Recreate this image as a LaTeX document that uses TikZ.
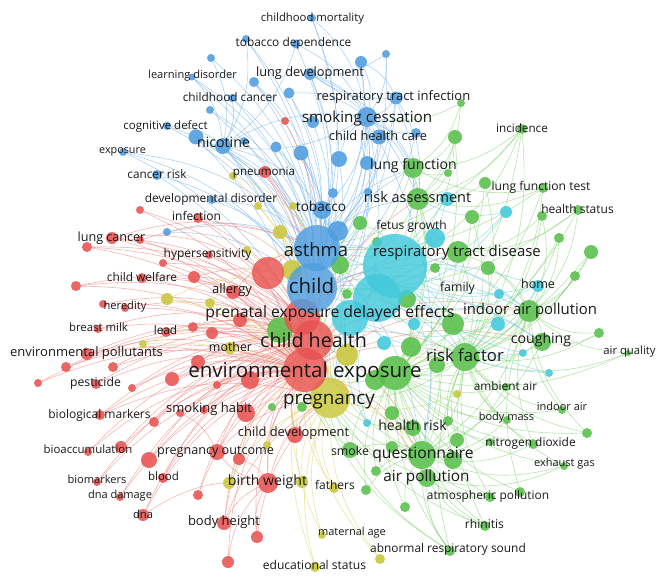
\documentclass[tikz,border=0pt]{standalone}
\usepackage{fontspec}
\setmainfont{Open Sans}
\pgfdeclarelayer{bottom}
\pgfdeclarelayer{edges}
\pgfsetlayers{bottom,edges,main}
\definecolor{cR}{RGB}{232,82,80}
\definecolor{cB}{RGB}{78,157,224}
\definecolor{cG}{RGB}{88,192,74}
\definecolor{cC}{RGB}{65,201,219}
\definecolor{cY}{RGB}{201,199,58}
\definecolor{eRc}{RGB}{240,120,118}
\definecolor{eBc}{RGB}{110,175,235}
\definecolor{eGc}{RGB}{125,210,105}
\definecolor{eCc}{RGB}{90,208,225}
\definecolor{eYc}{RGB}{215,210,90}
\definecolor{txt}{RGB}{25,25,25}
\tikzset{
  bub/.style={circle,inner sep=0pt,draw=none,fill=#1,fill opacity=0.88},
  bigbub/.style={circle,inner sep=0pt,draw=none,fill=#1,fill opacity=0.82},
  eR/.style={draw=eRc,line width=0.6pt,opacity=0.55},
  eB/.style={draw=eBc,line width=0.6pt,opacity=0.55},
  eG/.style={draw=eGc,line width=0.6pt,opacity=0.55},
  eC/.style={draw=eCc,line width=0.6pt,opacity=0.55},
  eY/.style={draw=eYc,line width=0.6pt,opacity=0.55},
  lab/.style={inner sep=0pt,text=txt,anchor=base}
}
\begin{document}
\begin{tikzpicture}[x=1pt,y=-1pt]
\begin{pgfonlayer}{bottom}
\fill[white] (0,0) rectangle (669,583);
\end{pgfonlayer}
\useasboundingbox (0,0) rectangle (669,583);
% small nodes
\foreach \n/\x/\y/\r in {bMort/312/18/4, bDep/296/44/4.5, b1/246/39/4, b2/211/58/4, bLearn/192/77/3.5, b3/254/82/5, bLungdev/310/74/6, b4/361/62/6, b5/386/54/4, bCancer/232/98/4, b6/289/93/5.5, bRti/396/98/6.5, b7/210/110/4, bCog/167/126/4, b8/196/137/7.5, bNic/223/146/8, b9/244/141/4, b10/276/147/5.5, b11/301/153/7.5, bSmoke/367/117/10, b12/313/122/6, b13/379/137/7.5, b14/416/133/5, bExp/123/152/4, bCrisk/157/175/5, b15/339/159/8, b16/367/163/7, b17/333/193/5, b18/368/192/4, bTob/322/210/9, b19/212/200/4, b20/167/232/4, b21/338/231/10}
  \node[bub=cB,minimum size={2*\r}] (\n) at (\x,\y) {};
\foreach \n/\x/\y/\r in {r1/285/121/4, rPneu/265/172/6, r2/140/210/4, rInf/198/218/5, rLc/112/238/6, r3/140/240/4, r4/87/247/5, r5/163/263/4, r6/209/255/4, rCw/142/278/5, r7/194/277/6, r8/76/286/5, rAll/233/292/7, r9/103/304/4, rHer/125/308/4, r10/240/320/7, rBm/98/329/4, r11/193/327/5, rLead/166/332/5, r12/212/333/6, rEp/87/354/6, r13/66/367/5, r14/113/367/5, r15/198/362/7, r16/38/383/4, rPest/96/384/5, r17/132/388/4, r18/172/379/7, r19/217/385/4, r20/250/380/9, rBio/100/415/5, r21/154/422/5, r22/180/413/4, rSh/204/410/4, r23/246/413/9, rCd/295/435/8, rBioacc/88/452/4, r24/121/447/6, r25/149/460/8, rPo/217/452/8, r26/239/459/6, rBiom/97/482/4, rBlood/163/478/5, rBw/268/483/10, rDnad/120/497/4, r27/198/495/5, rDna/143/515/6, rBh/224/523/7, r28/257/537/6, r29/228/562/6}
  \node[bub=cR,minimum size={2*\r}] (\n) at (\x,\y) {};
\foreach \n/\x/\y/\r in {y1/233/176/4, y2/258/206/4, y3/293/206/4, y4/280/232/7, y5/247/250/4, y6/292/270/10, y7/167/299/6, y8/210/303/5, y9/143/344/4, yMother/230/348/6, y10/347/355/11, y11/267/445/4, y12/229/483/6, y13/302/482/6, yFath/334/488/5, yMat/322/535/4, yEdu/315/567/5, y14/380/559/5, y15/457/394/4}
  \node[bub=cY,minimum size={2*\r}] (\n) at (\x,\y) {};
\foreach \n/\x/\y/\r in {c1/447/199/7, c2/435/238/10, c4/506/212/6, cHome/538/286/6, c5/499/294/5, c6/414/324/6, c7/498/324/7, c8/384/343/7, c9/523/353/4, c10/549/373/4, c11/367/423/4}
  \node[bub=cC,minimum size={2*\r}] (\n) at (\x,\y) {};
\foreach \n/\x/\y/\r in {g1/461/103/4, g2/455/137/7, gInc/522/129/5, gLf/413/168/10, g3/448/173/4, g4/485/183/6, gLft/543/188/5, gRa/418/199/11, g5/472/217/7, g6/542/216/5, gHs/578/210/5, g7/360/223/7, g8/377/242/5, g9/559/238/5, g10/591/252/7, gRtd/458/252/11, g11/340/265/9, g12/435/268/5, g13/488/268/7, g14/575/276/5, g15/347/294/5, g16/407/299/9, gIap/529/311/11, g17/453/324/11, g18/599/333/5, gCough/542/342/9, gAq/628/353/3, g19/411/347/10, gRf/465/357/14, g20/437/365/8, g21/395/373/17, g22/375/380/10, gAmb/506/387/4, g23/280/330/13, g24/272/407/4, g25/302/407/5, g26/392/413/7, gHr/413/428/8, g27/448/421/5, gIndoor/562/410/4, gBmass/507/420/4, g28/587/433/5, g29/457/440/7, g30/392/447/6, gSmoke/350/450/8, gQ/422/455/14, g31/453/460/9, gNd/533/444/5, g32/490/442/4, g33/376/471/5, gExh/564/466/4, gAp/427/478/9, g34/366/490/5, gAtm/490/497/5, g35/520/492/5, g36/405/507/5, gRhin/485/526/5, gAbn/450/551/5}
  \node[bub=cG,minimum size={2*\r}] (\n) at (\x,\y) {};
% big nodes
\node[bigbub=cC,minimum size=64] (cBig1) at (395,266) {};
\node[bigbub=cC,minimum size=48] (cBig2) at (377,298) {};
\node[bigbub=cC,minimum size=36] (c3) at (350,318) {};
\node[bigbub=cY,minimum size=40] (yPreg) at (330,398) {};
\node[bigbub=cR,minimum size=32] (rBig1) at (268,273) {};
\node[bigbub=cR,minimum size=36] (rPren) at (302,317) {};
\node[bigbub=cR,minimum size=40] (rCh) at (313,340) {};
\node[bigbub=cR,minimum size=44] (rEnv) at (305,370) {};
\node[bigbub=cB,minimum size=46] (bAsthma) at (317,248) {};
\node[bigbub=cB,minimum size=50] (bChild) at (312,288) {};
% edges
\begin{pgfonlayer}{edges}
\foreach \a/\b in {bMort/bSmoke, bMort/bAsthma, bDep/bSmoke, bDep/bChild, b1/bNic, b1/bAsthma, b2/bNic, bLearn/bNic, bLearn/bChild, b3/bAsthma, b3/bTob, bLungdev/bAsthma, bLungdev/bChild, bLungdev/bSmoke, bLungdev/gLf, b4/bSmoke, b4/bAsthma, b5/bSmoke, b5/bChild, bCancer/bChild, bCancer/bNic, b6/bAsthma, b6/bChild, bRti/bAsthma, bRti/bChild, bRti/bSmoke, bRti/cBig1, bRti/gRa, b7/bChild, bCog/bNic, bCog/bChild, b8/bAsthma, b8/bChild, b8/rEnv, bNic/bAsthma, bNic/bChild, bNic/rCh, bNic/bSmoke, bNic/yPreg, b9/bChild, b10/bAsthma, b11/bChild, b11/bAsthma, bSmoke/bAsthma, bSmoke/bChild, bSmoke/yPreg, bSmoke/rEnv, bSmoke/bTob, bSmoke/bNic, b12/bChild, b13/bAsthma, b13/bChild, b14/bChild, bExp/bChild, bExp/bAsthma, bCrisk/bChild, bCrisk/rEnv, b15/bChild, b16/bAsthma, b17/bChild, b18/bChild, bTob/bAsthma, bTob/bChild, bTob/yPreg, b19/bChild, b20/bAsthma, b21/bChild, bAsthma/cBig1, bAsthma/gRf, bAsthma/gIap, bAsthma/gQ, bChild/cBig1, bChild/gRf, bChild/gIap, bChild/gCough, bChild/cHome, bChild/gLf, bAsthma/gLf, bAsthma/gRa, bSmoke/gLf, bSmoke/gRa, bNic/bTob, b1/bChild, b2/bAsthma, b7/bAsthma, b4/bChild, b6/bSmoke, bCog/bAsthma, bMort/bChild, bDep/bNic, b5/bLungdev, bRti/bLungdev, b4/bRti, b13/bSmoke, b14/bSmoke, b15/bSmoke, b16/bSmoke, bSmoke/gQ, bSmoke/rCh, bLungdev/gRa, bNic/rEnv, b11/yPreg, b10/bChild, b3/bChild, bLearn/bAsthma, bCancer/bAsthma, bExp/rCh, b19/bAsthma, b20/bChild}
  \draw[eB] (\a) to[bend left=18] (\b);
\foreach \a/\b in {r1/rCh, rPneu/rEnv, rPneu/rCh, r2/rEnv, rInf/rCh, rInf/rEnv, rLc/rEnv, rLc/rCh, rLc/rBig1, rLc/bAsthma, r3/rEnv, r4/rCh, r4/rEnv, r5/rEnv, r6/rCh, rBig1/rEnv, rBig1/bAsthma, rCw/rCh, rCw/rEnv, r7/rEnv, r8/rEnv, r8/rCh, rAll/rEnv, rAll/bAsthma, r9/rEnv, rHer/rEnv, rHer/rCh, r10/rCh, rBm/rEnv, rBm/rCh, r11/rEnv, rLead/rEnv, rLead/rCh, r12/rCh, rEp/rEnv, rEp/rCh, rEp/yPreg, r13/rEnv, r14/rEnv, r15/rEnv, r16/rEnv, rPest/rEnv, rPest/rCh, r17/rEnv, r18/rEnv, r18/rCh, r19/rEnv, r20/rEnv, rBio/rEnv, rBio/rCh, r21/rEnv, r22/rEnv, rSh/rEnv, r23/rEnv, r23/yPreg, rCd/rEnv, rCd/yPreg, rBioacc/rEnv, r24/rEnv, r25/rEnv, r25/rCh, rPo/rEnv, rPo/yPreg, r26/rEnv, rBiom/rEnv, rBlood/rEnv, rBlood/rCh, rBw/rEnv, rBw/yPreg, rBw/rCh, rBw/rPo, rDnad/rEnv, rDna/rEnv, rDna/rBw, r27/rEnv, rBh/rEnv, rBh/rCh, rBh/rBw, r28/rEnv, r28/rBw, r29/rBw, r29/rEnv, rEnv/gQ, rEnv/gRf, rEnv/gAp, rCh/gRf, rCh/gIap, rPren/cBig1, rEnv/gIap, rCh/gRa, rPren/gRtd, rLc/rPren, r4/rPren, rCw/rPren, rBio/yPreg, rDna/rCh, rBh/yPreg, rPneu/bChild, rInf/bChild, r2/rCh, r3/bAsthma, r5/rPren, r7/bChild, r8/rPren, r9/rCh, r11/rCh, r12/rEnv, r13/rCh, r14/rCh, r15/rCh, r16/rCh, r17/rCh, r19/rCh, r20/rCh, r21/rCh, r22/rPo, rSh/rCh, r24/rCh, rBioacc/rCh, rBiom/rCh, rDnad/rCh, r27/rCh, r26/rBw, r28/yPreg, rCd/rCh, rPo/rCh, rEnv/gCough, rCh/gQ, rEnv/gRtd}
  \draw[eR] (\a) to[bend left=18] (\b);
\foreach \a/\b in {y1/yPreg, y2/yPreg, y3/yPreg, y4/yPreg, y5/yPreg, y6/yPreg, y7/yPreg, y7/rEnv, y8/yPreg, y9/yPreg, yMother/yPreg, y10/yPreg, y11/yPreg, y12/yPreg, y13/yPreg, yFath/yPreg, yMat/yPreg, yMat/rEnv, yEdu/yPreg, yEdu/rCh, y14/yPreg, y15/yPreg, yPreg/gQ, yPreg/gRf, y1/bAsthma, y7/bChild, y9/rCh, y4/bChild, y8/bAsthma, yMother/rCh, y12/rEnv, y13/rCh, yFath/rEnv, y14/rEnv}
  \draw[eY] (\a) to[bend left=18] (\b);
\foreach \a/\b in {c1/cBig1, c2/cBig1, c4/cBig1, c4/cBig2, cHome/cBig1, cHome/cBig2, c5/cBig1, c6/cBig2, c7/cBig1, c8/cBig2, c9/cBig1, c10/cBig2, c11/c3, cBig1/gIap, cBig2/gCough, c3/rEnv, cBig1/gRf, c4/gRa, cHome/gRf, c10/cBig1, c1/bChild, c2/bAsthma, c7/c3, c9/c3, cHome/gIap, c5/gRf, c11/cBig2, cBig1/gQ}
  \draw[eC] (\a) to[bend left=18] (\b);
\foreach \a/\b in {g1/gLf, g1/gRa, g2/gLf, g2/gRa, g2/cBig1, g2/g21, gInc/gRa, gInc/gLf, gInc/cBig1, gInc/g21, gLf/gRa, gLf/g21, gLf/cBig1, g3/gRa, g4/gRa, g4/gRf, gLft/gLf, gLft/gRa, gLft/g21, gRa/g21, gRa/cBig2, gRa/gQ, g5/gRf, g6/gIap, g6/gRtd, gHs/gIap, gHs/gRtd, gHs/g21, g7/cBig1, g8/cBig1, g9/gRf, g10/gRf, g10/gIap, g10/g21, gRtd/g21, gRtd/gRf, gRtd/gIap, g12/cBig1, g13/gRf, g14/gIap, g15/cBig2, g16/cBig2, gIap/g21, gIap/gRf, gIap/gQ, gIap/gCough, g17/g21, g18/gIap, g18/gRf, gCough/gRf, gCough/g21, gCough/gQ, gAq/gRf, gAq/gIap, g19/g21, gRf/g21, gRf/gQ, g20/g21, g22/g21, gAmb/gRf, gAmb/g21, g23/rEnv, g24/yPreg, g25/yPreg, g26/g21, gHr/g21, gHr/gQ, g27/gRf, gIndoor/gIap, gIndoor/g21, gBmass/gRf, gBmass/g21, g28/gRf, g28/gIap, g29/gRf, g30/g21, gSmoke/g21, gSmoke/yPreg, gQ/g21, gQ/yPreg, g31/g21, gNd/gIap, gNd/g21, gNd/gRf, g32/gQ, g33/gQ, gExh/gAp, gExh/g21, gExh/gRf, gAp/g21, gAp/gQ, gAp/rEnv, g34/g21, gAtm/gAp, gAtm/g21, gAtm/gRf, g35/gIap, g36/gQ, gRhin/gQ, gRhin/g21, gRhin/gRf, gAbn/gQ, gAbn/g21, gAbn/gRf, gAbn/yPreg, gAbn/gAp, g21/yPreg, g21/rEnv, gRf/yPreg, gQ/rCh, gLf/bChild, gRa/bChild, gRtd/bChild, gIap/bChild, gCough/bAsthma, gInc/bAsthma, gHs/bChild, g1/bSmoke, gLft/bAsthma, gAq/g21, g5/g21, g6/gRf, g9/gIap, g9/g21, g13/gIap, g14/gRf, g17/gRf, g18/gCough, g19/gRf, g20/gQ, g26/gQ, g27/gQ, g28/g21, g29/gQ, g30/gQ, g31/gRf, g32/g21, g33/g21, g34/gQ, g35/g21, g36/g21, gAmb/gIap, gAmb/gQ, gExh/gQ, gIndoor/gRf, gBmass/gQ, gNd/gQ, gAtm/gQ, gRhin/gAp, gRhin/yPreg, gAbn/rEnv, g7/bAsthma, g11/bChild, g15/rCh, g16/g21, gHr/yPreg, gSmoke/rEnv, gSmoke/gQ, g3/gLf, g4/g21, gInc/gRf, gLft/gRf}
  \draw[eG] (\a) to[bend left=18] (\b);
\end{pgfonlayer}
% labels
\foreach \n/\x/\y/\s/\t in {l1/312.5/18/11.3/childhood mortality, l2/293.5/43/11.9/tobacco dependence, l3/192.5/76/11.1/learning disorder, l4/310/73/12.8/lung development, l5/230/98/11.8/childhood cancer, l6/393.5/97/13/respiratory tract infection, l7/165.5/126/11.5/cognitive defect, l8/367/118/15.2/smoking cessation, l9/378/137/12.8/child health care, l10/522/129/11.7/incidence, l11/122.5/151/10.8/exposure, l12/223.5/144/14.2/nicotine, l13/413.5/166/14.1/lung function, l14/157/175/11.8/cancer risk, l15/264/172/11.6/pneumonia, l16/541/187/12.1/lung function test, l17/211/199/11.9/developmental disorder, l18/417.5/199/14.5/risk assessment, l19/321/208/13.6/tobacco, l20/577.5/210/12/health status, l21/196.5/217/12/infection, l22/411.5/226/12/fetus growth, l23/111.5/238/12.6/lung cancer, l24/207.5/254/12/hypersensitivity, l25/316/252/18.4/asthma, l26/457/252/14.9/respiratory tract disease, l27/142/278/11.9/child welfare, l28/311.5/288/20.5/child, l29/457.5/288/12.3/family, l30/538/285/12.5/home, l31/232/290/13/allergy, l32/125/307/11.1/heredity, l33/330/313/15.8/prenatal exposure delayed effects, l34/530/310/14.9/indoor air pollution, l35/98.5/328/11.4/breast milk, l36/165.5/331/11.8/lead, l37/541/340/14.1/coughing, l38/313.5/342/19.7/child health, l39/230.5/348/12.4/mother, l40/629.5/351/11.3/air quality, l41/86.5/353/13/environmental pollutants, l42/465/357/16.7/risk factor, l43/305/372/20.5/environmental exposure, l44/95.5/383/12.2/pesticide, l45/505.5/387/11.8/ambient air, l46/329/399/18.8/pregnancy, l47/99.5/415/12/biological markers, l48/209/409/13/smoking habit, l49/506.5/418/11/body mass, l50/562/408/11/indoor air, l51/412.5/427/14/health risk, l52/293.5/433/12.9/child development, l53/530.5/443/11.9/nitrogen dioxide, l54/88/450/11.4/bioaccumulation, l55/215.5/451/12.6/pregnancy outcome, l56/350/452/12.3/smoke, l57/423/454/15.7/questionnaire, l58/564.5/464/11/exhaust gas, l59/426.5/477/15.3/air pollution, l60/163.5/477/11.5/blood, l61/97/480/11.1/biomarkers, l62/267.5/482/14.1/birth weight, l63/335/486/12/fathers, l64/488/496/11.9/atmospheric pollution, l65/120/496/11/dna damage, l66/143/515/11.2/dna, l67/224/522/13/body height, l68/484.5/525/12.1/rhinitis, l69/352/533/11/maternal age, l70/448/549/11.9/abnormal respiratory sound, l71/314.5/566/12.1/educational status}
  \node[lab,font={\fontsize{\s}{\s}\selectfont}] (\n) at (\x,{\y+0.27*\s}) {\t};
\end{tikzpicture}
\end{document}
